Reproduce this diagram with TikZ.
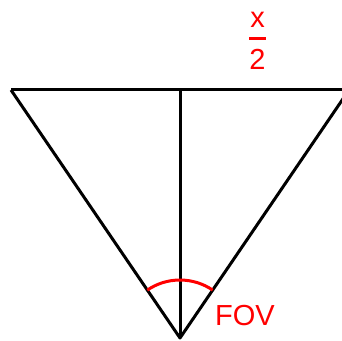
\documentclass[tikz,border=0pt]{standalone}
\usepackage{amsmath}
\usepackage{fontspec}
\setmainfont{Liberation Sans}
\usepackage{tikz}

\begin{document}
\begin{tikzpicture}[x=1pt, y=1pt,
  edge/.style={draw=black, line width=3pt, line join=round},
  redlabel/.style={text=red, font=\fontsize{29}{34}\selectfont, inner sep=0pt}]
\useasboundingbox (0,0) rectangle (342,340);
\clip (0,0) rectangle (342,340);
\coordinate (apex) at (180,2);
\coordinate (left) at (11,250);
\coordinate (right) at (349,250);
\coordinate (mid) at (180,250);
\draw[edge] (left) -- (right);
\draw[edge] (left) -- (apex) -- (right);
\draw[edge] (mid) -- (apex);
\draw[red, line width=3pt] ([shift={(55.7:58)}]apex) arc[start angle=55.7, end angle=124.3, radius=58];
\node[redlabel, anchor=base west] (fov) at (215,15) {FOV};
\node[redlabel] (half) at (257.5,299) {$\genfrac{}{}{3pt}{0}{\text{x}}{\text{2}}$};
\end{tikzpicture}
\end{document}
